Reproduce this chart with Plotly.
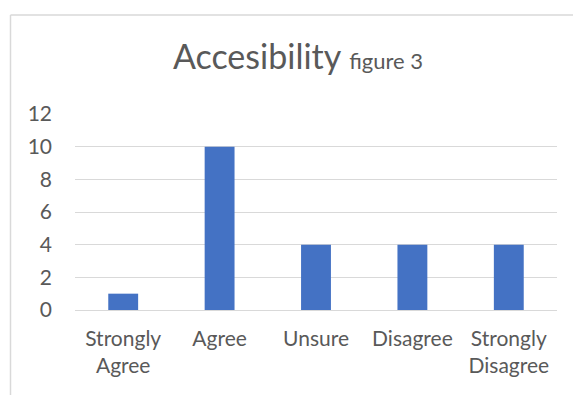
import plotly.graph_objects as go

categories = ["Strongly<br>Agree", "Agree", "Unsure", "Disagree", "Strongly<br>Disagree"]
values = [1, 10, 4, 4, 4]
y_ticks = [0, 2, 4, 6, 8, 10, 12]

FONT = "Lato, 'Open Sans', sans-serif"
TEXT = "#595959"

fig = go.Figure(go.Bar(x=categories, y=values, marker=dict(color="#4472C4", line=dict(width=0)),
                       width=0.31))

L, R, T, B = 75, 16, 114, 85
W, H = 573, 395
pw, ph = W - L - R, H - T - B

fig.update_layout(
    width=W, height=H,
    margin=dict(l=L, r=R, t=T, b=B, autoexpand=False),
    paper_bgcolor="white", plot_bgcolor="white",
    showlegend=False,
    title=dict(
        text="Accesibility <span style='font-size:22px'>figure 3</span>",
        font=dict(family=FONT, size=34, color=TEXT),
        x=298 / W, xanchor="center", xref="container",
        y=1 - 57 / H, yanchor="middle", yref="container",
    ),
    xaxis=dict(
        tickfont=dict(family=FONT, size=21, color=TEXT),
        showgrid=False, showline=False, ticks="",
        ticklabelstandoff=14,
    ),
    yaxis=dict(
        range=[0, 12], tickvals=y_ticks,
        tickfont=dict(family=FONT, size=21, color=TEXT),
        showgrid=True, gridcolor="#D9D9D9", gridwidth=1,
        zeroline=True, zerolinecolor="#D9D9D9", zerolinewidth=1,
        showline=False, ticks="", ticklabelstandoff=22,
        fixedrange=True,
    ),
    shapes=[
        dict(type="line", xref="paper", yref="paper",
             x0=(10.5 - L) / pw, x1=(W + 5 - L) / pw,
             y0=(H - B - 15) / ph, y1=(H - B - 15) / ph,
             line=dict(color="#D9D9D9", width=1.5)),
        dict(type="line", xref="paper", yref="paper",
             x0=(10.5 - L) / pw, x1=(10.5 - L) / pw,
             y0=(H - B - 15) / ph, y1=(H - B - H - 5) / ph,
             line=dict(color="#D9D9D9", width=1.5)),
    ],
)

fig.write_html("out.html")
